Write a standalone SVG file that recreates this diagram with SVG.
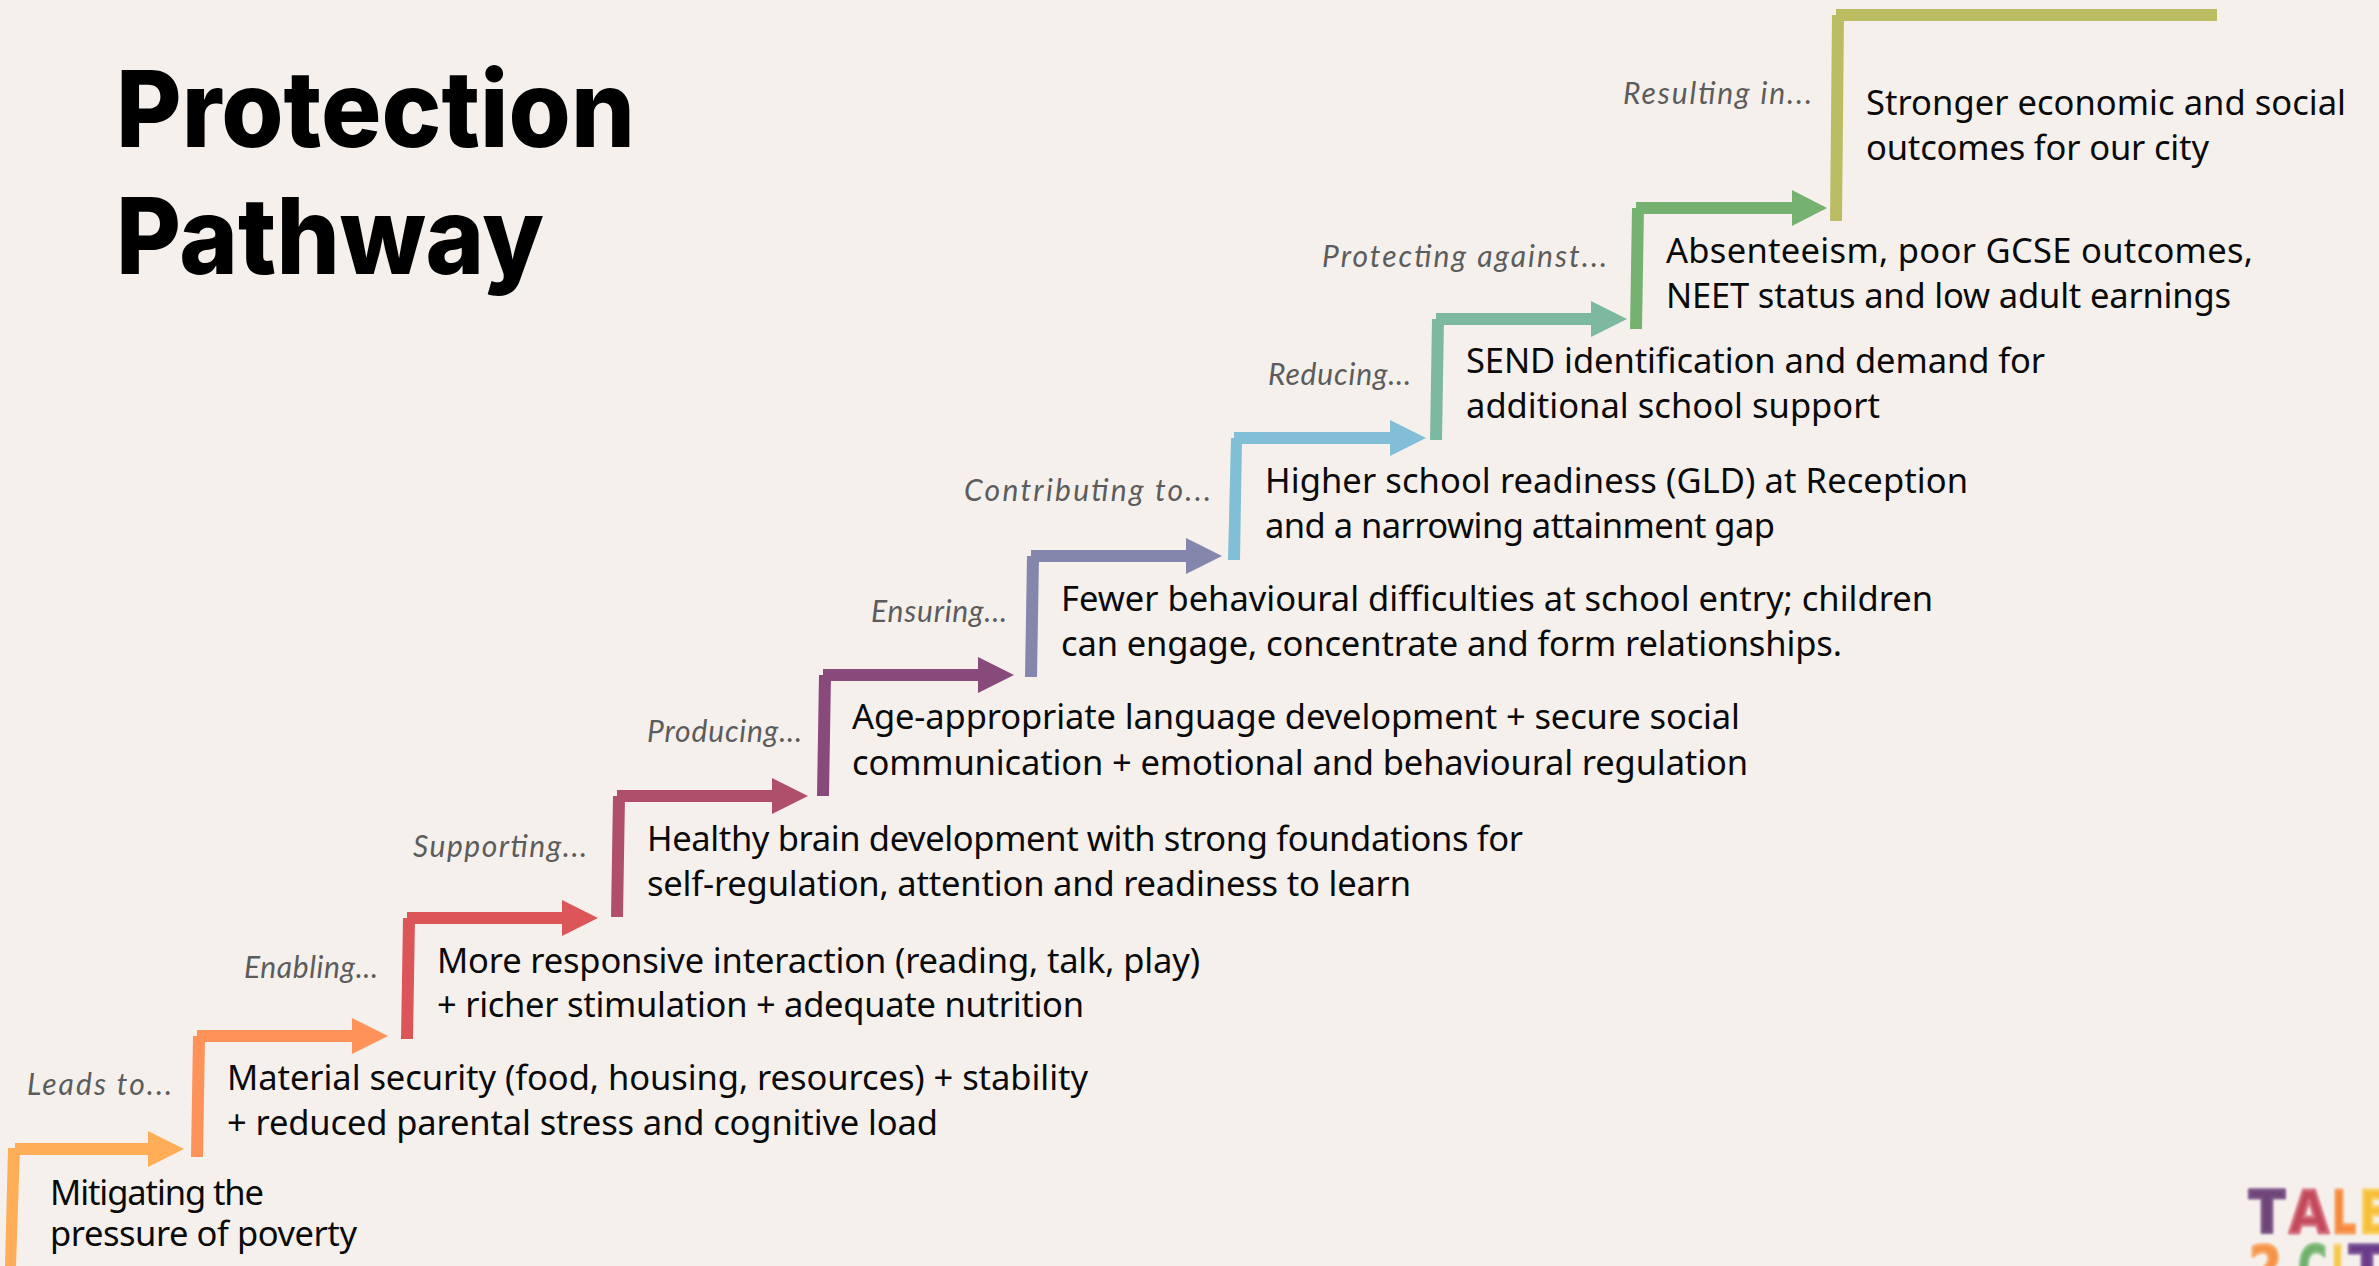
<svg xmlns="http://www.w3.org/2000/svg" width="2379" height="1266" viewBox="0 0 2379 1266">
<style>
.t{font-family:"Noto Sans","Liberation Sans",sans-serif;font-size:34.5px;fill:#0a0a0a}
.h{font-family:"Inter","Liberation Sans",sans-serif;font-size:106px;font-weight:800;fill:#000}
.l{font-family:"Lato","Liberation Sans",sans-serif;font-style:italic;font-size:30px;fill:#5c5c5c}
.k{font-family:"DejaVu Sans",sans-serif;font-weight:700;font-size:58px;stroke-width:3;stroke-linejoin:round}
.c1{fill:#FFAE57}.c2{fill:#FF9259}.c3{fill:#DC5659}.c4{fill:#AF4F6B}.c5{fill:#874A7B}.c6{fill:#8486AC}.c7{fill:#80BFD6}.c8{fill:#7DB9A1}.c9{fill:#75B270}.c10{fill:#BCBD63}
</style>
<defs><filter id="soft" x="-5%" y="-5%" width="110%" height="110%"><feGaussianBlur stdDeviation="0.8"/></filter></defs>
<rect width="2379" height="1266" fill="#F5F0EC"/>
<g id="connectors">
<path class="c1" d="M8 1148H20L16 1266H5ZM15 1143H148V1131L184 1149L148 1167V1155H15Z"/>
<path class="c2" d="M193 1036H205L203 1157H191ZM197 1030H352V1018L388 1036L352 1054V1042H197Z"/>
<path class="c3" d="M403 918H415L413 1039H401ZM407 912H562V900L598 918L562 936V924H407Z"/>
<path class="c4" d="M613 796H625L623 917H611ZM617 790H772V778L808 796L772 814V802H617Z"/>
<path class="c5" d="M819 675H831L829 796H817ZM823 669H978V657L1014 675L978 693V681H823Z"/>
<path class="c6" d="M1027 556H1039L1037 677H1025ZM1031 550H1186V538L1222 556L1186 574V562H1031Z"/>
<path class="c7" d="M1231 438H1242L1240 560H1228ZM1234 432H1390V420L1426 438L1390 456V444H1234Z"/>
<path class="c8" d="M1432 319H1444L1442 440H1430ZM1436 313H1591V301L1627 319L1591 337V325H1436Z"/>
<path class="c9" d="M1632 208H1644L1642 329H1630ZM1636 202H1792V190L1827 208L1792 226V214H1636Z"/>
<path class="c10" d="M1832 15H1844L1842 221H1830ZM1836 9H2217V21H1836Z"/>
</g>
<g id="title">
<text class="h" x="116" y="147" textLength="519" lengthAdjust="spacingAndGlyphs">Protection</text>
<text class="h" x="116" y="274" textLength="428" lengthAdjust="spacingAndGlyphs">Pathway</text>
</g>
<g id="step-1"><text class="t" x="50" y="1205" textLength="214">Mitigating the</text><text class="t" x="50" y="1246" textLength="307">pressure of poverty</text></g>
<g id="step-2"><text class="l" x="27" y="1095" textLength="145">Leads to...</text><text class="t" x="227" y="1090" textLength="861">Material security (food, housing, resources) + stability</text><text class="t" x="227" y="1135" textLength="711">+ reduced parental stress and cognitive load</text></g>
<g id="step-3"><text class="l" x="244" y="978" textLength="134">Enabling...</text><text class="t" x="437" y="973" textLength="763">More responsive interaction (reading, talk, play)</text><text class="t" x="437" y="1017" textLength="647">+ richer stimulation + adequate nutrition</text></g>
<g id="step-4"><text class="l" x="413" y="857" textLength="174">Supporting...</text><text class="t" x="647" y="851" textLength="876">Healthy brain development with strong foundations for</text><text class="t" x="647" y="896" textLength="764">self-regulation, attention and readiness to learn</text></g>
<g id="step-5"><text class="l" x="647" y="742" textLength="155">Producing...</text><text class="t" x="852" y="729" textLength="888">Age-appropriate language development + secure social</text><text class="t" x="852" y="775" textLength="896">communication + emotional and behavioural regulation</text></g>
<g id="step-6"><text class="l" x="871" y="622" textLength="136">Ensuring...</text><text class="t" x="1061" y="611" textLength="872">Fewer behavioural difficulties at school entry; children</text><text class="t" x="1061" y="656" textLength="781">can engage, concentrate and form relationships.</text></g>
<g id="step-7"><text class="l" x="964" y="501" textLength="247">Contributing to...</text><text class="t" x="1265" y="493" textLength="703">Higher school readiness (GLD) at Reception</text><text class="t" x="1265" y="538" textLength="510">and a narrowing attainment gap</text></g>
<g id="step-8"><text class="l" x="1268" y="385" textLength="143">Reducing...</text><text class="t" x="1466" y="373" textLength="579">SEND identification and demand for</text><text class="t" x="1466" y="418" textLength="414">additional school support</text></g>
<g id="step-9"><text class="l" x="1322" y="267" textLength="285">Protecting against...</text><text class="t" x="1666" y="263" textLength="587">Absenteeism, poor GCSE outcomes,</text><text class="t" x="1666" y="308" textLength="565">NEET status and low adult earnings</text></g>
<g id="step-10"><text class="l" x="1623" y="104" textLength="189">Resulting in...</text><text class="t" x="1866" y="115" textLength="480">Stronger economic and social</text><text class="t" x="1866" y="160" textLength="343">outcomes for our city</text></g>
<g id="logo" filter="url(#soft)">
<text class="k" x="2249" y="1233" textLength="36" lengthAdjust="spacingAndGlyphs" fill="#6E4478" stroke="#7E5688">T</text>
<text class="k" x="2289" y="1233" textLength="40" lengthAdjust="spacingAndGlyphs" fill="#C24A5C" stroke="#D5707E">A</text>
<text class="k" x="2332" y="1233" textLength="24" lengthAdjust="spacingAndGlyphs" fill="#F5893B" stroke="#F8A060">L</text>
<text class="k" x="2359" y="1233" textLength="32" lengthAdjust="spacingAndGlyphs" fill="#F6BF3A" stroke="#F9D060">E</text>
<text class="k" x="2249" y="1288" textLength="33" lengthAdjust="spacingAndGlyphs" fill="#F5924A" stroke="#F8A868">2</text>
<text class="k" x="2298" y="1288" textLength="29" lengthAdjust="spacingAndGlyphs" fill="#6FB06A" stroke="#8CC088">C</text>
<text class="k" x="2331" y="1288" textLength="13" lengthAdjust="spacingAndGlyphs" fill="#F6C74A" stroke="#F9D67C">I</text>
<text class="k" x="2349" y="1288" textLength="36" lengthAdjust="spacingAndGlyphs" fill="#6A3A8A" stroke="#7E5698">T</text>
</g>
</svg>
